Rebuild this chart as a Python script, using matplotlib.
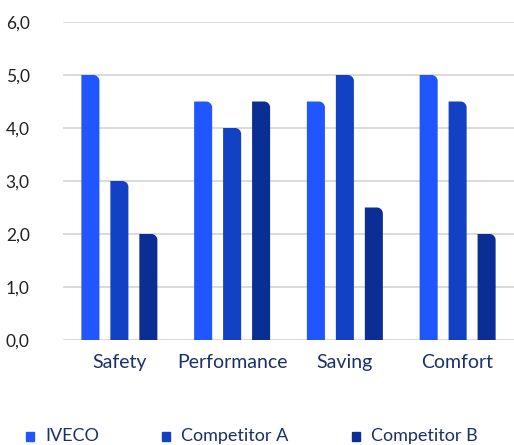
import matplotlib.pyplot as plt
import numpy as np
from matplotlib.path import Path
from matplotlib.patches import PathPatch

categories = ["Safety", "Performance", "Saving", "Comfort"]
series = ["IVECO", "Competitor A", "Competitor B"]
iveco = [5.0, 4.5, 4.5, 5.0]
comp_a = [3.0, 4.0, 5.0, 4.5]
comp_b = [2.0, 4.5, 2.5, 2.0]
colors = ["#1f56ff", "#1241c4", "#0a2e94"]

plt.rcParams["font.family"] = ["Lato", "DejaVu Sans"]

W, H = 514, 445
fig = plt.figure(figsize=(W / 100, H / 100), dpi=100)
ax_l, ax_r, ax_t, ax_b = 63, 514, 22, 340
ax = fig.add_axes([ax_l / W, 1 - ax_b / H, (ax_r - ax_l) / W, (ax_b - ax_t) / H])

ymax = 6.0
ax.set_xlim(-0.5, 3.5)
ax.set_ylim(0, ymax)
px_x = (ax_r - ax_l) / 4.0
px_y = (ax_b - ax_t) / ymax

width = 0.16
step = 0.257
r_px = 6
rx, ry = r_px / px_x, r_px / px_y
k = 0.5523


def rounded_bar(x0, w, h, color):
    x1 = x0 + w
    verts = [(x0, 0), (x0, h), (x1 - rx, h),
             (x1 - rx + k * rx, h), (x1, h - ry + k * ry), (x1, h - ry),
             (x1, 0), (x0, 0)]
    codes = [Path.MOVETO, Path.LINETO, Path.LINETO,
             Path.CURVE4, Path.CURVE4, Path.CURVE4,
             Path.LINETO, Path.CLOSEPOLY]
    ax.add_patch(PathPatch(Path(verts, codes), facecolor=color,
                           edgecolor="none", zorder=3))


x = np.arange(len(categories))
for i, vals in enumerate([iveco, comp_a, comp_b]):
    for xi, v in zip(x, vals):
        center = xi + (i - 1) * step
        rounded_bar(center - width / 2, width, v, colors[i])

ax.set_yticks(np.arange(0, 6.01, 1.0))
ax.set_yticklabels([f"{t:.1f}".replace(".", ",") for t in np.arange(0, 6.01, 1.0)],
                   fontsize=12.5, color="#222222")
ax.set_xticks(x)
ax.set_xticklabels(categories, fontsize=14, color="#1b2f6b")
ax.tick_params(axis="both", length=0)
ax.tick_params(axis="y", pad=24)
ax.tick_params(axis="x", pad=10)
ax.grid(axis="y", color="#d4d4d4", linewidth=1.2, zorder=0)
ax.set_axisbelow(True)
for s in ax.spines.values():
    s.set_visible(False)

# legend
leg_y = 1 - 436 / H
for (mx, name, c) in [(26, "IVECO", colors[0]), (162, "Competitor A", colors[1]),
                      (352, "Competitor B", colors[2])]:
    fig.patches.append(plt.Rectangle((mx / W, leg_y - 4.5 / H), 8 / W, 9 / H,
                                     transform=fig.transFigure, color=c))
    fig.text((mx + 19) / W, leg_y, name, fontsize=13, color="#1b2f6b",
             va="center", ha="left")

fig.savefig("out.png", dpi=100)
